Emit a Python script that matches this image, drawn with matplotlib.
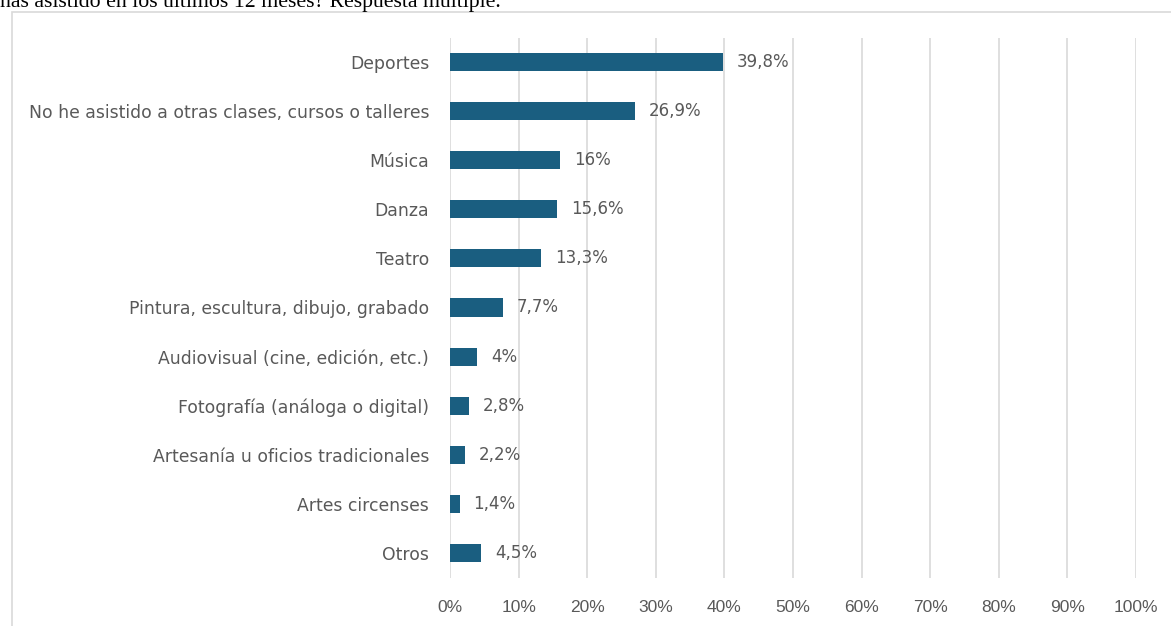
import matplotlib
matplotlib.use('Agg')
import matplotlib.pyplot as plt
from matplotlib.patches import Rectangle

categories = ['Deportes', 'No he asistido a otras clases, cursos o talleres', 'Música',
              'Danza', 'Teatro', 'Pintura, escultura, dibujo, grabado',
              'Audiovisual (cine, edición, etc.)', 'Fotografía (análoga o digital)',
              'Artesanía u oficios tradicionales', 'Artes circenses', 'Otros']
values = [39.8, 26.9, 16.0, 15.6, 13.3, 7.7, 4.0, 2.8, 2.2, 1.4, 4.5]
value_labels = ['39,8%', '26,9%', '16%', '15,6%', '13,3%', '7,7%', '4%', '2,8%',
                '2,2%', '1,4%', '4,5%']
xticks = list(range(0, 101, 10))
title = 'has asistido en los últimos 12 meses? Respuesta múltiple.'

BAR = '#1a5e80'
GRAY = '#595959'
W, H = 1171, 626

fig = plt.figure(figsize=(W / 100, H / 100), dpi=100)

# chart frame (clipped by the page edges)
fig.patches.append(Rectangle((12 / W, -0.1), 1.2, 1 - 12 / H + 0.1, transform=fig.transFigure,
                             fill=False, edgecolor='#d9d9d9', linewidth=1.2))
# heading of the page, mostly cut off at the top
fig.text(0, 1 - 7 / H, title, family='Liberation Serif', fontsize=15.7, color='black',
         ha='left', va='baseline')

ax = fig.add_axes([450 / W, 1 - 577.5 / H, 686 / W, 540 / H])
ypos = list(range(len(categories)))
ax.barh(ypos, values, height=0.37, color=BAR, zorder=3)
for y, v, lab in zip(ypos, values, value_labels):
    ax.annotate(lab, (v, y), xytext=(10, 0), textcoords='offset points', va='center',
                ha='left', fontsize=12, color=GRAY, family='DejaVu Sans')

ax.set_xlim(0, 100)
ax.set_ylim(len(categories) - 0.5, -0.5)
ax.set_xticks(xticks)
ax.set_xticklabels([f'{t}%' for t in xticks], family='Liberation Sans', fontsize=12.5, color=GRAY)
ax.set_yticks(ypos)
ax.set_yticklabels(categories, family='DejaVu Sans', fontsize=12.4, color=GRAY)
ax.tick_params(axis='both', length=0)
ax.tick_params(axis='x', pad=16)
ax.tick_params(axis='y', pad=15)
ax.grid(axis='x', color='#d9d9d9', linewidth=1.2, zorder=0)
for s in ax.spines.values():
    s.set_visible(False)

fig.savefig('out.png', dpi=100)
